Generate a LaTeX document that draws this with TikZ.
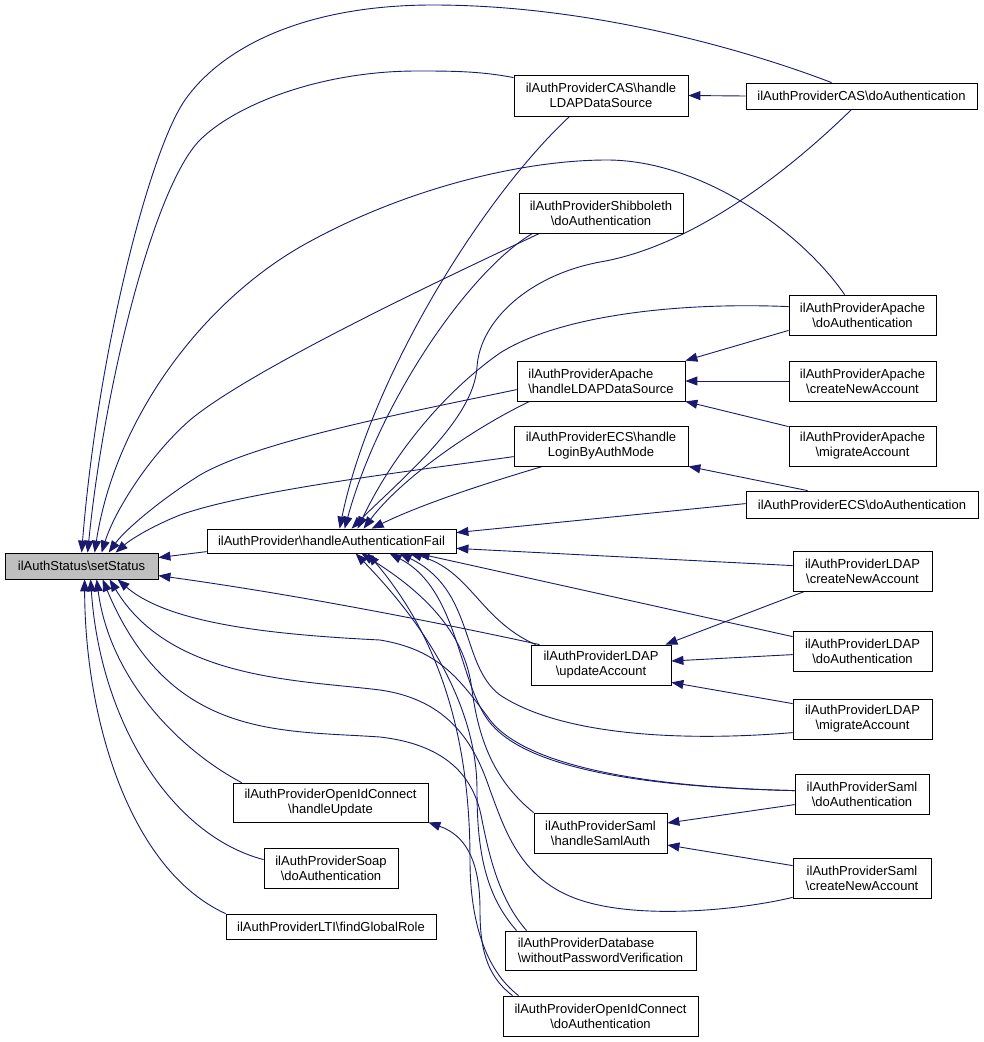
\documentclass[tikz,border=0pt]{standalone}
\usepackage{fontspec}
\setmainfont{Liberation Sans}
\usetikzlibrary{arrows.meta,calc}
\definecolor{edgeblue}{HTML}{191970}
\definecolor{rootgray}{HTML}{BFBFBF}
\pgfdeclarelayer{back}
\pgfdeclarelayer{bg}
\pgfsetlayers{back,bg,main}
\begin{document}
\begin{tikzpicture}[x=1pt,y=-1pt,
  box/.style={draw=black,line width=0.8pt,fill=white,inner sep=0pt,align=center,font=\fontsize{13}{15}\selectfont},
  conn/.style={draw=edgeblue,line width=0.9pt,-{Triangle[length=12pt,width=9pt]}},
]
\useasboundingbox (0,0) rectangle (984,1042);
\begin{pgfonlayer}{back}
\fill[white] (0,0) rectangle (984,1042);
\end{pgfonlayer}

% nodes
\node[box,fill=rootgray,minimum width=153pt,minimum height=26pt] (S) at (81.5,566) {ilAuthStatus\textbackslash setStatus};
\node[box,minimum width=249pt,minimum height=24pt] (F) at (331.5,541) {ilAuthProvider\textbackslash handleAuthenticationFail};
\node[box,minimum width=174pt,minimum height=41pt] (CASh) at (601,95.5) {ilAuthProviderCAS\textbackslash handle\\LDAPDataSource};
\node[box,minimum width=231pt,minimum height=26pt] (CASd) at (861.5,96) {ilAuthProviderCAS\textbackslash doAuthentication};
\node[box,minimum width=164pt,minimum height=40pt] (Shib) at (601,213) {ilAuthProviderShibboleth\\\textbackslash doAuthentication};
\node[box,minimum width=147pt,minimum height=40pt] (ApDo) at (862.5,315) {ilAuthProviderApache\\\textbackslash doAuthentication};
\node[box,align=left,minimum width=168pt,minimum height=40pt] (ApH) at (601,381) {ilAuthProviderApache\\\textbackslash handleLDAPDataSource};
\node[box,minimum width=147pt,minimum height=40pt] (ApC) at (862.5,381) {ilAuthProviderApache\\\textbackslash createNewAccount};
\node[box,minimum width=147pt,minimum height=40pt] (ApM) at (862.5,446) {ilAuthProviderApache\\\textbackslash migrateAccount};
\node[box,minimum width=174pt,minimum height=40pt] (ECSh) at (601,446) {ilAuthProviderECS\textbackslash handle\\LoginByAuthMode};
\node[box,minimum width=232pt,minimum height=27pt] (ECSd) at (862,504.5) {ilAuthProviderECS\textbackslash doAuthentication};
\node[box,minimum width=139pt,minimum height=40pt] (LDAPc) at (862.5,571) {ilAuthProviderLDAP\\\textbackslash createNewAccount};
\node[box,minimum width=139pt,minimum height=40pt] (LDAPd) at (862.5,651) {ilAuthProviderLDAP\\\textbackslash doAuthentication};
\node[box,minimum width=139pt,minimum height=40pt] (LDAPm) at (862.5,719) {ilAuthProviderLDAP\\\textbackslash migrateAccount};
\node[box,minimum width=140pt,minimum height=40pt] (LDAPu) at (601,665) {ilAuthProviderLDAP\\\textbackslash updateAccount};
\node[box,minimum width=134pt,minimum height=40pt] (SamlD) at (862,794) {ilAuthProviderSaml\\\textbackslash doAuthentication};
\node[box,minimum width=138pt,minimum height=40pt] (SamlC) at (862,878) {ilAuthProviderSaml\\\textbackslash createNewAccount};
\node[box,minimum width=133pt,minimum height=40pt] (SamlH) at (600.5,833) {ilAuthProviderSaml\\\textbackslash handleSamlAuth};
\node[box,minimum width=195pt,minimum height=39pt] (OIDh) at (330.5,802.5) {ilAuthProviderOpenIdConnect\\\textbackslash handleUpdate};
\node[box,minimum width=134pt,minimum height=40pt] (Soap) at (331,868) {ilAuthProviderSoap\\\textbackslash doAuthentication};
\node[box,minimum width=210pt,minimum height=25pt] (LTI) at (331,926.5) {ilAuthProviderLTI\textbackslash findGlobalRole};
\node[box,align=left,minimum width=191pt,minimum height=39pt] (DB) at (600.5,950.5) {ilAuthProviderDatabase\\\textbackslash withoutPasswordVerification};
\node[box,minimum width=195pt,minimum height=40pt] (OIDd) at (600.5,1016) {ilAuthProviderOpenIdConnect\\\textbackslash doAuthentication};

\begin{pgfonlayer}{bg}
% callers of setStatus
\draw[conn] ($(F.north west)+(0,23)$) -- ($(S.north east)+(0,5)$);
\draw[conn] ($(CASd.north west)+(86,0)$) .. controls (760,55) and (600,5) .. (433,5) .. controls (300,5) and (220,50) .. (185,100) .. controls (150,150) and (98,350) .. ($(S.north west)+(77,0)$);
\draw[conn] ($(CASh.north west)+(0,3)$) .. controls (480,71) and (450,71) .. (417,71) .. controls (320,71) and (235,105) .. (200,140) .. controls (155,185) and (105,380) .. ($(S.north west)+(83,0)$);
\draw[conn] ($(ApDo.north west)+(56,0)$) .. controls (800,230) and (700,160) .. (607,160) .. controls (520,160) and (400,190) .. (300,247) .. controls (200,305) and (115,420) .. ($(S.north west)+(90,0)$);
\draw[conn] ($(Shib.south west)+(21,0)$) .. controls (440,280) and (250,370) .. (190,420) .. controls (150,455) and (115,510) .. ($(S.north west)+(97,0)$);
\draw[conn] ($(ApH.north west)+(0,29)$) .. controls (420,410) and (260,440) .. (200,475) .. controls (160,500) and (125,530) .. ($(S.north west)+(104,0)$);
\draw[conn] ($(ECSh.north west)+(0,31)$) .. controls (420,470) and (250,490) .. (180,515) .. controls (150,527) and (130,540) .. ($(S.north west)+(111,0)$);
\draw[conn] ($(LDAPu.north west)+(9,0)$) .. controls (450,625) and (300,595) .. ($(S.north east)+(0,23)$);
\draw[conn] ($(SamlD.north west)+(0,17)$) .. controls (640,787) and (525,765) .. (490,720) .. controls (460,680) and (440,650) .. (380,640) .. controls (280,635) and (170,625) .. ($(S.south west)+(113,0)$);
\draw[conn] ($(SamlC.south west)+(0,-1)$) .. controls (740,910) and (640,920) .. (580,900) .. controls (520,880) and (505,830) .. (490,790) .. controls (475,745) and (450,700) .. (380,690) .. controls (300,680) and (170,680) .. ($(S.south west)+(105,0)$);
\draw[conn] ($(DB.north west)+(22,0)$) .. controls (500,900) and (490,860) .. (482,820) .. controls (475,780) and (450,745) .. (380,737) .. controls (280,730) and (170,740) .. ($(S.south west)+(98,0)$);
\draw[conn] ($(OIDh.north west)+(9,0)$) .. controls (180,750) and (110,680) .. ($(S.south west)+(92,0)$);
\draw[conn] ($(Soap.north west)+(0,12)$) .. controls (170,835) and (100,720) .. ($(S.south west)+(86,0)$);
\draw[conn] (LTI.north west) .. controls (130,870) and (85,720) .. ($(S.south west)+(80,0)$);

% callers of handleAuthenticationFail
\draw[conn] ($(CASh.south west)+(56,0)$) .. controls (480,200) and (370,380) .. ($(F.north west)+(133,0)$);
\draw[conn] ($(Shib.south west)+(14,0)$) .. controls (470,270) and (380,400) .. ($(F.north west)+(138,0)$);
\draw[conn] ($(CASd.south west)+(106,0)$) .. controls (800,160) and (700,245) .. (600,262) .. controls (530,275) and (480,320) .. (477,367) .. controls (474,420) and (400,480) .. ($(F.north west)+(145,0)$);
\draw[conn] ($(ApDo.north west)+(0,12)$) .. controls (680,302) and (560,315) .. (500,353) .. controls (440,395) and (390,460) .. ($(F.north west)+(151,0)$);
\draw[conn] ($(ApH.south west)+(13,0)$) .. controls (470,430) and (400,480) .. ($(F.north west)+(157,0)$);
\draw[conn] ($(ECSh.south west)+(29,0)$) .. controls (480,485) and (420,505) .. ($(F.north west)+(165,0)$);
\draw[conn] ($(ECSd.north west)+(0,13)$) -- ($(F.north east)+(0,4)$);
\draw[conn] ($(LDAPc.north west)+(0,15)$) -- ($(F.south east)+(0,-5)$);
\draw[conn] ($(LDAPd.north west)+(0,6)$) -- ($(F.south west)+(211,0)$);
\draw[conn] ($(LDAPu.north west)+(5,0)$) .. controls (480,620) and (470,570) .. ($(F.south west)+(203,0)$);
\draw[conn] ($(LDAPm.north west)+(0,34)$) .. controls (680,742) and (560,735) .. (500,695) .. controls (460,665) and (475,590) .. ($(F.south west)+(193,0)$);
\draw[conn] ($(SamlD.north west)+(0,17)$) .. controls (640,787) and (530,768) .. (492,725) .. controls (458,687) and (460,590) .. ($(F.south west)+(183,0)$);
\draw[conn] (SamlH.north west) .. controls (500,785) and (480,750) .. (472,690) .. controls (465,630) and (420,590) .. ($(F.south west)+(155,0)$);
\draw[conn] ($(DB.north west)+(12,0)$) .. controls (485,895) and (477,850) .. (477,790) .. controls (477,720) and (440,640) .. ($(F.south west)+(149,0)$);
\draw[conn] ($(OIDd.north west)+(16,0)$) .. controls (485,970) and (470,920) .. (470,860) .. controls (470,760) and (450,650) .. ($(F.south west)+(161,0)$);

% other calls
\draw[conn] ($(OIDd.north west)+(10,0)$) .. controls (485,975) and (480,945) .. (480,910) .. controls (480,860) and (465,835) .. (OIDh.south east);
\draw[conn] (CASd.west) -- (CASh.east);
\draw[conn] ($(ApDo.south west)+(0,-5)$) -- (ApH.north east);
\draw[conn] (ApC.west) -- (ApH.east);
\draw[conn] ($(ApM.north west)+(0,1)$) -- (ApH.south east);
\draw[conn] ($(ECSd.north west)+(62,0)$) -- (ECSh.south east);
\draw[conn] ($(LDAPc.south west)+(12,0)$) -- ($(LDAPu.north east)+(-6,0)$);
\draw[conn] ($(LDAPd.north west)+(0,24)$) -- ($(LDAPu.east)+(0,-4)$);
\draw[conn] ($(LDAPm.north west)+(0,5)$) -- ($(LDAPu.south east)+(0,-3)$);
\draw[conn] ($(SamlD.north west)+(0,31)$) -- ($(SamlH.east)+(0,-10)$);
\draw[conn] ($(SamlC.north west)+(0,8)$) -- ($(SamlH.east)+(0,12)$);
\end{pgfonlayer}
\end{tikzpicture}
\end{document}
